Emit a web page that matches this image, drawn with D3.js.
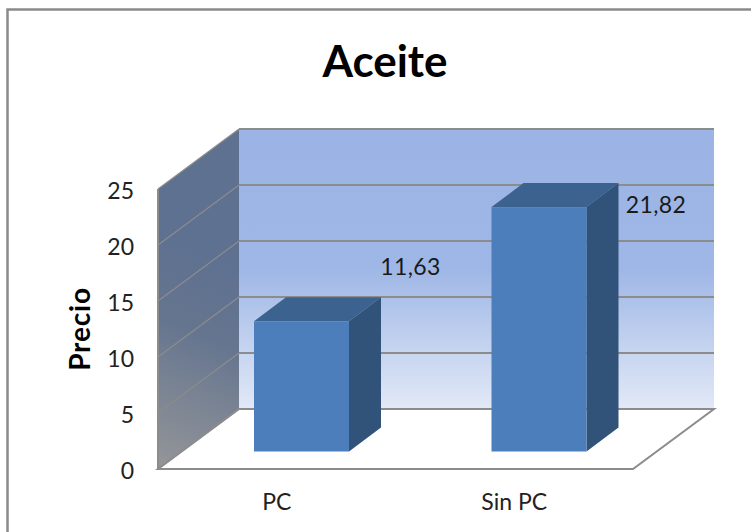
<!DOCTYPE html>
<html>
<head>
<meta charset="utf-8">
<script src="https://cdn.jsdelivr.net/npm/d3@7"></script>
<style>
    html, body { margin: 0; padding: 0; background: #fff; }
    svg { display: block; }
    text { font-family: Lato, "Open Sans", sans-serif; fill: #1a1a1a; }
</style>
</head>
<body>
<svg id="chart" width="751" height="532"></svg>
<script>
const categories = ["PC", "Sin PC"]
const precios = [11.63, 21.82]
const yTicks = [0, 5, 10, 15, 20, 25]

const FRONT_LEFT = 158
const FRONT_RIGHT = 633
const FRONT_BOTTOM = 469
const FRONT_TOP = 189
// depth of the 3D box
const DEPTH_X = 81
const DEPTH_Y = -60
// bar box inside the depth
const BAR_X = 24.75
const BAR_Y = -17.5
const BAR_DEPTH_X = 32
const BAR_DEPTH_Y = -24
// where the data labels sit, relative to the front top of each bar
const LABEL_OFFSET = [[109, -54], [117, -2]]

const GRID = "#8c8c8c"
const FONT_SIZE = "23px"

const svg = d3.select("#chart")

const xScale = d3.scaleBand()
    .domain(categories)
    .range([FRONT_LEFT, FRONT_RIGHT])
    .paddingInner(0.6)
    .paddingOuter(0.3)

const yScale = d3.scaleLinear()
    .domain([0, 25])
    .range([FRONT_BOTTOM, FRONT_TOP])

const comma = d3.formatLocale({decimal: ",", thousands: ".", grouping: [3], currency: ["", ""]}).format(".2f")

function pts(list) {
    return list.map(p => p.join(",")).join(" ")
}

function drawGradients() {
    const defs = svg.append("defs")

    const back = defs.append("linearGradient")
        .attr("id", "backWall")
        .attr("x1", 0).attr("y1", 0).attr("x2", 0).attr("y2", 1)
    back.append("stop").attr("offset", "0%").attr("stop-color", "#9bb4e5")
    back.append("stop").attr("offset", "50%").attr("stop-color", "#9fb7e6")
    back.append("stop").attr("offset", "75%").attr("stop-color", "#c0d0ee")
    back.append("stop").attr("offset", "100%").attr("stop-color", "#e2e9f7")

    const side = defs.append("linearGradient")
        .attr("id", "sideWall")
        .attr("gradientUnits", "userSpaceOnUse")
        .attr("x1", 239).attr("y1", 270).attr("x2", 160).attr("y2", 465)
    side.append("stop").attr("offset", "0%").attr("stop-color", "#5f7191")
    side.append("stop").attr("offset", "35%").attr("stop-color", "#65758f")
    side.append("stop").attr("offset", "100%").attr("stop-color", "#939598")
}

function drawFrame() {
    svg.append("rect")
        .attr("x", 7.5)
        .attr("y", 9.5)
        .attr("width", 780)
        .attr("height", 560)
        .attr("fill", "#fff")
        .attr("stroke", "#8a8a8a")
        .attr("stroke-width", 2.5)

    svg.append("text")
        .attr("x", 385)
        .attr("y", 77)
        .attr("text-anchor", "middle")
        .style("font-size", "44px")
        .style("font-weight", "bold")
        .style("fill", "#000")
        .text("Aceite")
}

function drawWalls() {
    const y0 = yScale(0)
    const yMax = yScale(25)

    // back wall
    svg.append("rect")
        .attr("x", FRONT_LEFT + DEPTH_X)
        .attr("y", yMax + DEPTH_Y)
        .attr("width", FRONT_RIGHT - FRONT_LEFT)
        .attr("height", y0 - yMax)
        .attr("fill", "url(#backWall)")

    // side wall
    svg.append("polygon")
        .attr("points", pts([
            [FRONT_LEFT, yMax],
            [FRONT_LEFT + DEPTH_X, yMax + DEPTH_Y],
            [FRONT_LEFT + DEPTH_X, y0 + DEPTH_Y],
            [FRONT_LEFT, y0]
        ]))
        .attr("fill", "url(#sideWall)")

    // floor
    svg.append("polygon")
        .attr("points", pts([
            [FRONT_LEFT, y0],
            [FRONT_LEFT + DEPTH_X, y0 + DEPTH_Y],
            [FRONT_RIGHT + DEPTH_X, y0 + DEPTH_Y],
            [FRONT_RIGHT, y0]
        ]))
        .attr("fill", "#fff")
        .attr("stroke", GRID)
        .attr("stroke-width", 2)

    // Grid on the back wall and down the side wall
    yTicks.forEach(function (d) {
        const y = yScale(d)
        svg.append("line")
            .attr("x1", FRONT_LEFT + DEPTH_X)
            .attr("x2", FRONT_RIGHT + DEPTH_X)
            .attr("y1", y + DEPTH_Y)
            .attr("y2", y + DEPTH_Y)
            .attr("stroke", GRID)
            .attr("stroke-width", 2)
        svg.append("line")
            .attr("x1", FRONT_LEFT)
            .attr("x2", FRONT_LEFT + DEPTH_X)
            .attr("y1", y)
            .attr("y2", y + DEPTH_Y)
            .attr("stroke", GRID)
            .attr("stroke-width", 1.2)
    })

    // left edge of the side wall
    svg.append("line")
        .attr("x1", FRONT_LEFT)
        .attr("x2", FRONT_LEFT)
        .attr("y1", yMax)
        .attr("y2", y0)
        .attr("stroke", GRID)
        .attr("stroke-width", 2)
}

function drawBars() {
    const w = xScale.bandwidth()
    const y0 = yScale(0) + BAR_Y

    categories.forEach(function (c, i) {
        const x = xScale(c) + BAR_X
        const top = yScale(precios[i]) + BAR_Y

        // top face
        svg.append("polygon")
            .attr("points", pts([
                [x, top],
                [x + BAR_DEPTH_X, top + BAR_DEPTH_Y],
                [x + w + BAR_DEPTH_X, top + BAR_DEPTH_Y],
                [x + w, top]
            ]))
            .attr("fill", "#3c628f")

        // right face
        svg.append("polygon")
            .attr("points", pts([
                [x + w, top],
                [x + w + BAR_DEPTH_X, top + BAR_DEPTH_Y],
                [x + w + BAR_DEPTH_X, y0 + BAR_DEPTH_Y],
                [x + w, y0]
            ]))
            .attr("fill", "#325379")

        // front face
        svg.append("rect")
            .attr("x", x)
            .attr("y", top)
            .attr("width", w)
            .attr("height", y0 - top)
            .attr("fill", "#4d7ebc")

        svg.append("text")
            .attr("x", x + w / 2 + LABEL_OFFSET[i][0])
            .attr("y", top + LABEL_OFFSET[i][1])
            .attr("dy", ".35em")
            .attr("text-anchor", "middle")
            .style("font-size", FONT_SIZE)
            .style("letter-spacing", "0.4px")
            .text(comma(precios[i]))
    })
}

function drawAxis() {
    // Y axis
    svg.append("g")
        .attr("transform", `translate(${FRONT_LEFT - 10}, 2)`)
        .call(d3.axisLeft(yScale).tickValues(yTicks).tickSize(0).tickPadding(14))
        .call(g => g.select(".domain").remove())
        .selectAll("text")
        .style("font-family", "Lato")
        .style("font-size", FONT_SIZE)
        .style("fill", "#222")

    // X axis
    svg.append("g")
        .attr("transform", `translate(0, ${FRONT_BOTTOM})`)
        .call(d3.axisBottom(xScale).tickSize(0).tickPadding(25))
        .call(g => g.select(".domain").remove())
        .selectAll("text")
        .style("font-family", "Lato")
        .style("font-size", FONT_SIZE)
        .style("fill", "#222")

    // Y label
    svg.append("text")
        .attr("transform", "translate(90, 329) rotate(-90)")
        .attr("text-anchor", "middle")
        .style("font-size", "28px")
        .style("font-weight", "bold")
        .style("letter-spacing", "0.8px")
        .style("fill", "#000")
        .text("Precio")
}

drawGradients()
drawFrame()
drawWalls()
drawBars()
drawAxis()
</script>
</body>
</html>
